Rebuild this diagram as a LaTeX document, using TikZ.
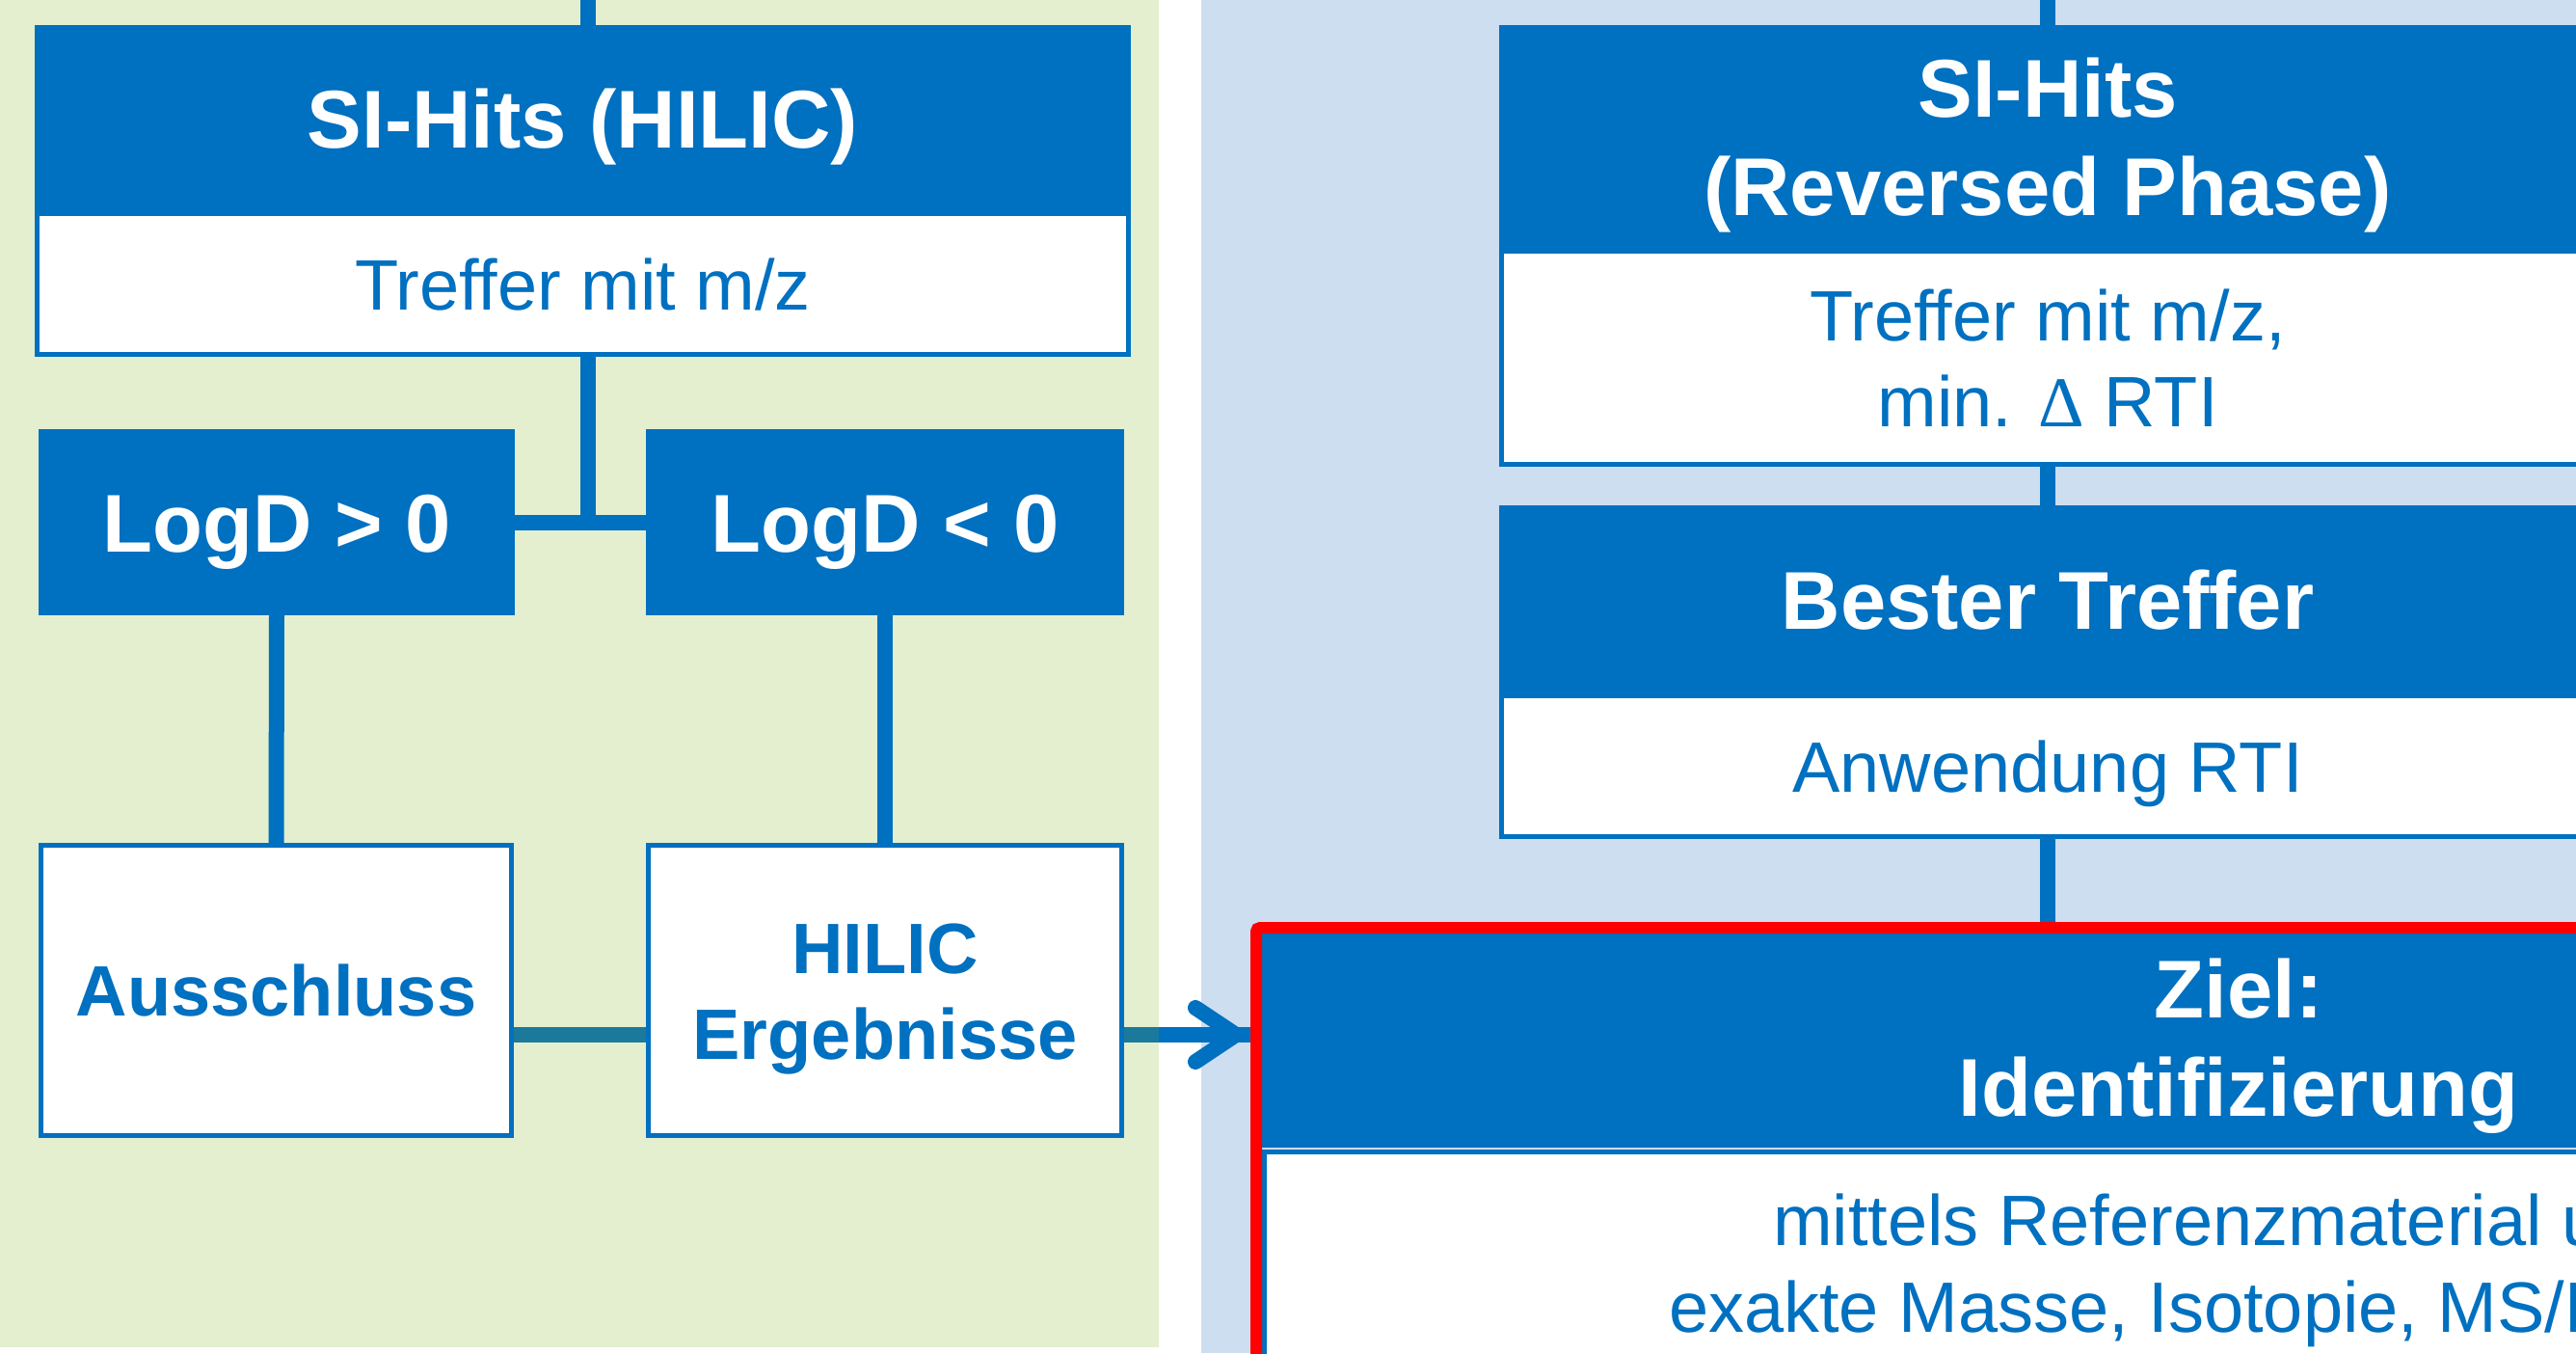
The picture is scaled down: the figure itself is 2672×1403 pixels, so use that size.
\documentclass[tikz,border=0pt]{standalone}
\usepackage{fontspec}
\setmainfont{Liberation Sans}
\newfontfamily\deltafont{Liberation Serif}
\usetikzlibrary{calc}
\definecolor{bggreen}{HTML}{E3EFCF}
\definecolor{bgblue}{HTML}{CDDEF1}
\definecolor{boxblue}{HTML}{0070C0}
\definecolor{tealc}{HTML}{1B7A9B}
\definecolor{redc}{HTML}{FF0000}
\pgfdeclarelayer{panels}
\pgfdeclarelayer{links}
\pgfsetlayers{panels,links,main}
\begin{document}
\begin{tikzpicture}[x=1pt,y=-1pt,
  every node/.style={inner sep=0pt, outer sep=0pt, anchor=north west},
  headbox/.style={fill=boxblue, text=white, font=\fontsize{85}{102}\selectfont\bfseries, align=center, text height=61pt, text depth=0pt},
  headtwo/.style={headbox, text height=163pt},
  bodybox/.style={fill=white, draw=boxblue, line width=5pt, text=boxblue, font=\fontsize{74}{89}\selectfont, align=center, text height=53pt, text depth=0pt},
  bodytwo/.style={bodybox, text height=142pt},
  boldbody/.style={bodybox, font=\fontsize{74}{89}\selectfont\bfseries},
  boldtwo/.style={boldbody, text height=142pt},
  bodytext/.style={text=boxblue, font=\fontsize{74}{90.5}\selectfont, align=left, text height=143.5pt, text depth=0pt},
  conn/.style={draw=boxblue, line width=16pt},
  tconn/.style={draw=tealc, line width=16pt},
]
\useasboundingbox (0,0) rectangle (2672,1403);

\begin{pgfonlayer}{panels}
\node[fill=bggreen, minimum width=1202pt, minimum height=1397pt] (green) at (0,0) {};
\node[fill=bgblue, minimum width=1430pt, minimum height=1403pt] (blue) at (1246,0) {};
\end{pgfonlayer}

% left column
\node[headbox, minimum width=1137pt, minimum height=193pt] (hilichead) at (36,26) {SI-Hits (HILIC)};
\node[bodybox, minimum width=1132pt, minimum height=146pt] (hilicbody) at (38.5,221.5) {Treffer mit m/z};
\node[headbox, minimum width=494pt, minimum height=193pt] (logpos) at (40,445) {LogD > 0};
\node[headbox, minimum width=496pt, minimum height=193pt] (logneg) at (670,445) {LogD < 0};
\node[boldbody, minimum width=488pt, minimum height=301pt] (aus) at (42.5,876.5) {Ausschluss};
\node[boldtwo, minimum width=491pt, minimum height=301pt] (hres) at (672.5,876.5) {HILIC\\Ergebnisse};

% right column
\node[headtwo, minimum width=1138pt, minimum height=232pt] (rphead) at (1555,26) {SI-Hits\\(Reversed Phase)};
\node[bodytwo, minimum width=1133pt, minimum height=221pt] (rpbody) at (1557.5,260.5) {Treffer mit m/z,\\min. {\deltafont Δ} RTI};
\node[headbox, minimum width=1138pt, minimum height=195pt] (besthead) at (1555,524) {Bester Treffer};
\node[bodybox, minimum width=1133pt, minimum height=146pt] (bestbody) at (1557.5,721.5) {Anwendung RTI};

% target box
\node[headtwo, minimum width=2026pt, minimum height=215pt] (zielhead) at (1309,968) {Ziel:\\Identifizierung};
\node[bodybox, minimum width=2022pt, minimum height=240pt] (zielbody) at (1311.5,1194.5) {};
\node[bodytext] (zieltext) at (1731,1238) {\hspace*{108pt}mittels Referenzmaterial und\\exakte Masse, Isotopie, MS/MS};
\node[draw=redc, line width=12pt, rounded corners=4pt, outer sep=6pt, minimum width=2038pt, minimum height=472pt] (zielframe) at (1297,956) {};

\coordinate (topL) at (610,0);
\coordinate (jL) at (610,541.5);
\coordinate (ay) at (0,1073);
\coordinate (topR) at (2124,0);

\begin{pgfonlayer}{links}
\fill[boxblue] (zielhead.south west) rectangle ([yshift=-7pt]zielhead.south east);
\draw[conn] (topL) -- (topL |- hilichead.north);
\draw[conn] (jL |- hilicbody.south) -- (jL);
\draw[conn] (logpos.east) -- (logneg.west);
\draw[conn] (logpos.south) -- (aus.north);
\draw[conn] (logneg.south) -- (hres.north);
\draw[tconn] (aus.east |- ay) -- (hres.west |- ay);
\draw[conn] (hres.east |- ay) -- (zielframe.west |- ay);
\draw[tconn] (hres.east |- ay) -- (green.east |- ay);
\path (zielframe.west |- ay) coordinate (tipA);
\coordinate (tipc) at ([xshift=-15pt]tipA);
\draw[conn, line cap=round, line join=miter] ([xshift=-42pt,yshift=28pt]tipc) -- (tipc) -- ([xshift=-42pt,yshift=-28pt]tipc);
\draw[conn] (topR) -- (topR |- rphead.north);
\draw[conn] (rpbody.south) -- (besthead.north);
\draw[conn] (bestbody.south) -- (bestbody.south |- zielframe.north);
\end{pgfonlayer}
\end{tikzpicture}
\end{document}
